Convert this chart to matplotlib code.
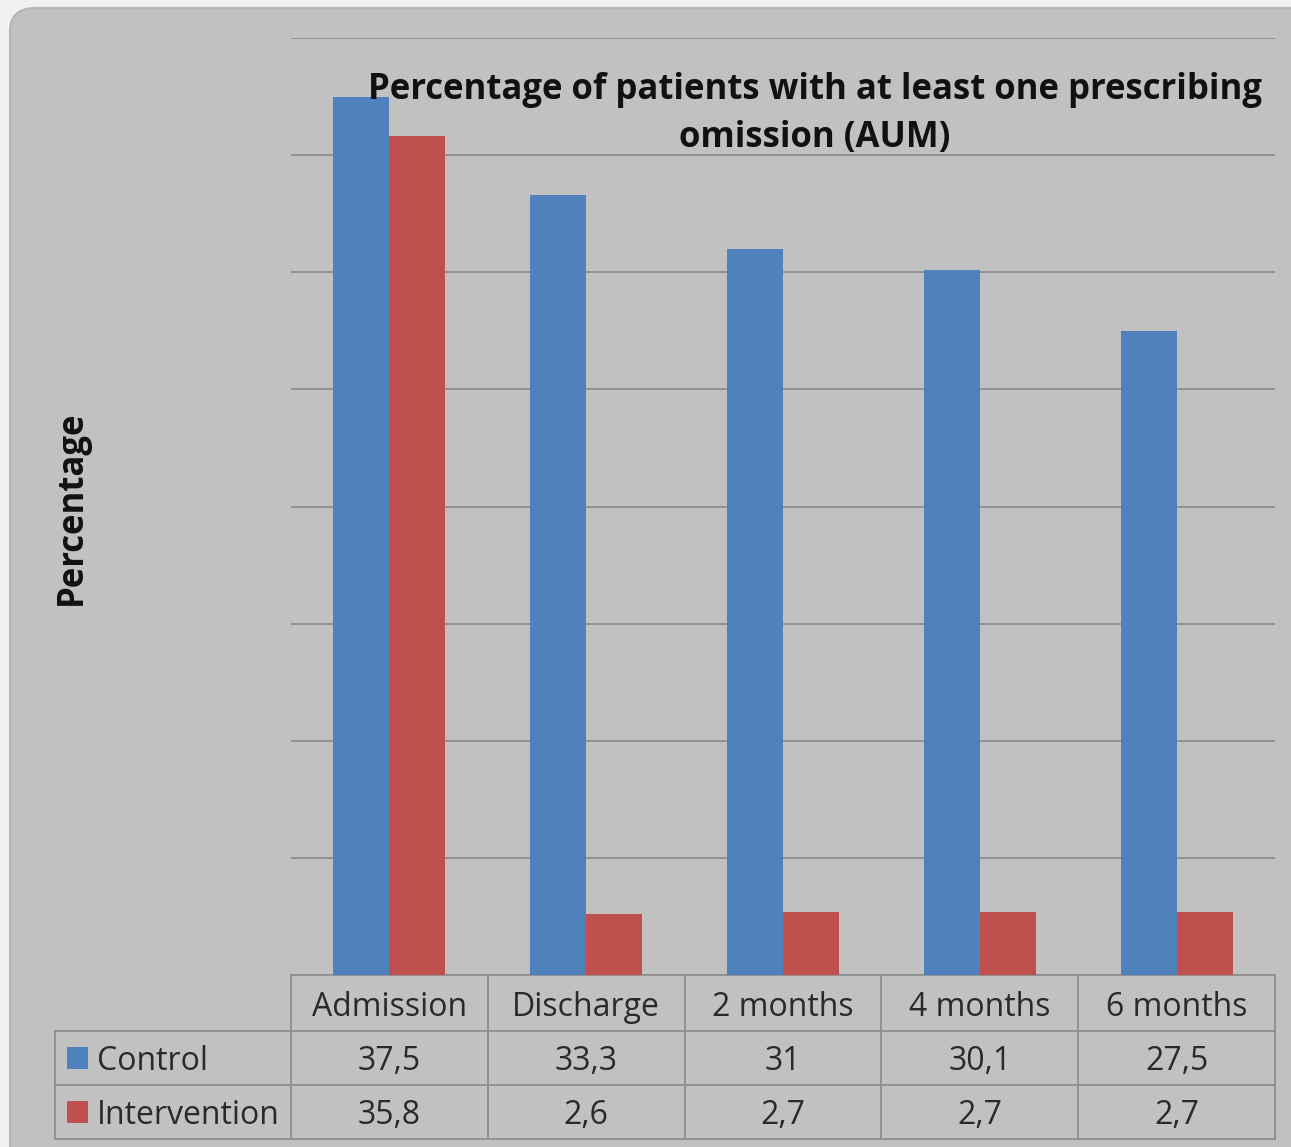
import numpy as np
import matplotlib.pyplot as plt
from matplotlib.patches import FancyBboxPatch, Rectangle
import matplotlib.transforms as mtransforms

categories = ['Admission', 'Discharge', '2 months', '4 months', '6 months']
control = [37.5, 33.3, 31, 30.1, 27.5]
intervention = [35.8, 2.6, 2.7, 2.7, 2.7]
control_labels = ['37,5', '33,3', '31', '30,1', '27,5']
intervention_labels = ['35,8', '2,6', '2,7', '2,7', '2,7']

blue = '#4f81bd'
red = '#c0504d'
grid_col = '#8f8f8f'
txt_col = '#2a2a2a'

plt.rcParams['font.family'] = ['Open Sans', 'DejaVu Sans']

W, H = 1291, 1147
fig = plt.figure(figsize=(W / 100, H / 100), dpi=100)
fig.patch.set_facecolor('#f0f0f0')

# gray chart area with rounded corner
bg = FancyBboxPatch((10 / W, -0.05), 1.1, 1 - 8 / H + 0.05,
                    boxstyle='round,pad=0,rounding_size=0.02',
                    transform=fig.transFigure, facecolor='#c1c1c1',
                    edgecolor='#b5b5b5', lw=1.5, zorder=-5)
fig.patches.append(bg)

left, right, top, bottom = 291, 1275, 38, 975
ax = fig.add_axes([left / W, 1 - bottom / H, (right - left) / W, (bottom - top) / H])
ax.set_facecolor('none')
ax.set_zorder(2)

x = np.arange(len(categories))
w = 0.285
ax.bar(x - w / 2, control, w, color=blue, zorder=3)
ax.bar(x + w / 2, intervention, w, color=red, zorder=3)

ax.set_xlim(-0.5, len(categories) - 0.5)
ax.set_ylim(0, 40)
ax.set_yticks(np.arange(0, 41, 5))
ax.yaxis.grid(True, color=grid_col, lw=1.3, zorder=1)
ax.set_axisbelow(True)
ax.tick_params(left=False, bottom=False, labelleft=False, labelbottom=False)
for s in ax.spines.values():
    s.set_visible(False)

ax.text((815 - left) / (right - left), -(114 - bottom) / (bottom - top),
        'Percentage of patients with at least one prescribing\nomission (AUM)',
        fontsize=25, fontweight='bold', color='#111111', linespacing=1.42,
        ha='center', va='center', transform=ax.transAxes, zorder=5)

fig.text(72 / W, 1 - 508 / H, 'Percentage', rotation=90, fontsize=25,
         fontweight='bold', color='#111111', ha='center', va='center')

# data table under the axis
ph = bottom - top
def yax(py):
    return -(py - bottom) / ph

trans = mtransforms.blended_transform_factory(ax.transData, ax.transAxes)
cw = (right - left) / len(categories)
lab_left = -0.5 - (left - 55) / cw
rows_y = [975, 1031, 1085, 1139]
lk = dict(color=grid_col, lw=1.3, transform=trans, clip_on=False)

# horizontal lines
ax.plot([-0.5, 4.5], [yax(975)] * 2, **lk)
for py in rows_y[1:]:
    ax.plot([lab_left, 4.5], [yax(py)] * 2, **lk)
# vertical lines
for xv in np.arange(-0.5, 5.0, 1.0):
    ax.plot([xv, xv], [yax(975), yax(1139)], **lk)
ax.plot([lab_left, lab_left], [yax(1031), yax(1139)], **lk)

tk = dict(fontsize=23, color=txt_col, ha='center', va='center',
          transform=trans, clip_on=False)
for i, c in enumerate(categories):
    ax.text(i, yax(1007), c, **tk)
    ax.text(i, yax(1061), control_labels[i], **tk)
    ax.text(i, yax(1115), intervention_labels[i], **tk)

sq = 21 / cw
for py, name, col in [(1058, 'Control', blue), (1112, 'Intervention', red)]:
    ax.add_patch(Rectangle((lab_left + 12 / cw, yax(py + 11)), sq, 22 / ph,
                           transform=trans, facecolor=col, clip_on=False))
    ax.text(lab_left + 42 / cw, yax(py + 3), name, fontsize=23, color=txt_col,
            ha='left', va='center', transform=trans, clip_on=False)

fig.savefig('out.png', dpi=100, facecolor=fig.get_facecolor())
